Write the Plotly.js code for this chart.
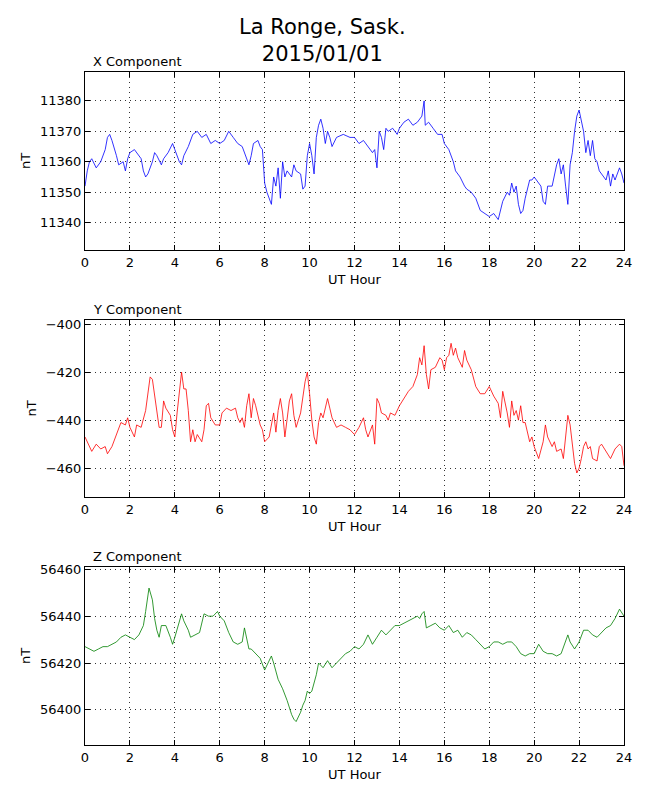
<!DOCTYPE html>
<html>
<head>
<meta charset="utf-8">
<script src="https://cdn.plot.ly/plotly-3.0.1.min.js"></script>
<style>body{margin:0;background:#fff}#chart{width:650px;height:800px}</style>
</head>
<body>
<div id="chart"></div>
<script>
// X component (hour, nT)
const xHours = [0,0.1,0.2,0.3,0.5,0.7,0.9,1.0,1.1,1.2,1.4,1.5,1.7,1.8,1.9,2.0,2.2,2.4,2.5,2.6,2.7,2.8,3.0,3.1,3.2,3.4,3.5,3.7,3.9,4.0,4.2,4.3,4.4,4.6,4.8,5.0,5.2,5.4,5.6,5.8,6.0,6.2,6.4,6.6,6.8,7.0,7.2,7.3,7.4,7.5,7.7,7.8,7.9,8.0,8.1,8.2,8.3,8.4,8.5,8.6,8.7,8.8,8.9,9.0,9.2,9.3,9.4,9.6,9.7,9.8,9.9,10.0,10.1,10.2,10.3,10.4,10.5,10.6,10.7,10.8,10.9,11.0,11.2,11.5,11.8,12.0,12.2,12.4,12.6,12.8,12.9,13.0,13.1,13.2,13.3,13.4,13.5,13.7,13.9,14.0,14.2,14.4,14.6,14.8,15.0,15.1,15.15,15.3,15.5,15.7,15.9,16.0,16.2,16.4,16.5,16.7,16.9,17.0,17.2,17.4,17.6,17.8,18.0,18.2,18.4,18.6,18.8,18.9,19.0,19.1,19.2,19.3,19.4,19.5,19.6,19.8,19.9,20.0,20.2,20.3,20.4,20.5,20.6,20.8,21.0,21.1,21.2,21.3,21.4,21.5,21.6,21.7,21.8,21.9,22.0,22.1,22.2,22.3,22.4,22.5,22.6,22.7,22.8,22.9,23.0,23.2,23.3,23.4,23.5,23.6,23.8,23.9,24];
const xValues = [11352,11357,11360,11361,11358,11360,11364,11368,11369,11367,11362,11359,11360,11357,11361,11363,11364,11362,11361,11357,11355,11356,11360,11363,11362,11359,11361,11363,11366,11364,11360,11359,11362,11365,11369,11370,11368,11369,11366,11367,11366,11367,11370,11368,11366,11365,11361,11359,11362,11366,11367,11365,11364,11353,11350,11348,11346,11355,11352,11358,11348,11360,11355,11357,11355,11359,11357,11356,11351,11352,11362,11366,11362,11356,11368,11372,11374,11371,11366,11370,11368,11365,11368,11369,11368,11368,11366,11367,11365,11363,11364,11358,11370,11368,11364,11371,11370,11371,11369,11371,11373,11374,11372,11373,11375,11380,11372,11373,11371,11369,11369,11366,11364,11360,11357,11355,11352,11351,11350,11348,11344,11343,11342,11343,11341,11347,11350,11349,11353,11350,11352,11346,11343,11344,11348,11354,11354,11355,11353,11352,11347,11346,11352,11352,11359,11361,11356,11359,11352,11346,11359,11363,11370,11375,11377,11373,11370,11363,11367,11362,11367,11361,11360,11357,11356,11354,11357,11352,11356,11354,11358,11356,11353];

// Y component
const yHours = [0,0.2,0.3,0.5,0.7,0.9,1.0,1.2,1.4,1.6,1.8,1.9,2.0,2.2,2.3,2.5,2.7,2.8,2.9,3.0,3.1,3.2,3.3,3.4,3.5,3.6,3.8,3.9,4.0,4.1,4.2,4.3,4.4,4.5,4.6,4.7,4.8,4.9,5.0,5.2,5.3,5.4,5.5,5.6,5.8,6.0,6.1,6.3,6.5,6.7,6.8,6.9,7.0,7.1,7.2,7.3,7.4,7.5,7.6,7.8,7.9,8.0,8.2,8.3,8.4,8.5,8.6,8.7,8.8,8.9,9.0,9.1,9.2,9.3,9.4,9.5,9.6,9.8,9.9,10.0,10.1,10.2,10.3,10.4,10.5,10.6,10.8,10.9,11.0,11.2,11.4,11.6,11.8,12.0,12.2,12.4,12.5,12.6,12.8,12.9,13.0,13.1,13.2,13.4,13.5,13.6,13.8,14.0,14.2,14.4,14.6,14.8,14.9,15.0,15.1,15.2,15.3,15.4,15.6,15.7,15.8,15.9,16.0,16.1,16.2,16.3,16.4,16.5,16.6,16.8,16.9,17.0,17.2,17.4,17.6,17.8,18.0,18.2,18.4,18.5,18.6,18.8,18.9,19.0,19.1,19.2,19.3,19.4,19.5,19.6,19.8,19.9,20.0,20.2,20.3,20.4,20.5,20.6,20.8,20.9,21.0,21.2,21.3,21.4,21.5,21.6,21.7,21.8,21.9,22.0,22.1,22.2,22.3,22.4,22.5,22.6,22.8,22.9,23.0,23.2,23.4,23.6,23.8,23.9,24];
const yValues = [-447,-451,-453,-450,-452,-451,-454,-451,-446,-441,-442,-439,-443,-447,-442,-443,-436,-428,-422,-423,-429,-437,-443,-443,-432,-435,-438,-444,-447,-437,-428,-420,-427,-427,-436,-449,-444,-449,-446,-449,-444,-434,-433,-439,-442,-442,-437,-435,-436,-435,-439,-441,-439,-443,-434,-429,-439,-431,-434,-442,-444,-449,-447,-441,-437,-445,-436,-431,-437,-447,-439,-432,-429,-438,-443,-440,-437,-424,-420,-429,-440,-447,-450,-441,-437,-439,-431,-435,-439,-443,-442,-443,-444,-446,-443,-439,-444,-447,-442,-450,-431,-433,-437,-438,-440,-437,-438,-434,-431,-428,-426,-421,-414,-417,-409,-421,-427,-419,-418,-416,-414,-415,-419,-414,-413,-408,-413,-410,-414,-418,-411,-415,-419,-426,-429,-429,-426,-430,-433,-439,-428,-437,-443,-432,-438,-436,-440,-434,-441,-441,-449,-447,-451,-456,-452,-449,-442,-447,-451,-449,-453,-452,-456,-446,-438,-442,-451,-458,-462,-460,-456,-451,-449,-452,-451,-456,-457,-451,-450,-453,-456,-452,-450,-451,-459];

// Z component
const zHours = [0,0.2,0.4,0.6,0.8,1.0,1.2,1.4,1.6,1.8,2.0,2.2,2.4,2.6,2.7,2.8,2.85,3.0,3.1,3.2,3.3,3.4,3.6,3.8,3.9,4.0,4.2,4.3,4.4,4.6,4.7,4.9,5.1,5.3,5.5,5.7,5.9,6.0,6.2,6.4,6.6,6.8,7.0,7.1,7.2,7.3,7.4,7.6,7.8,8.0,8.2,8.3,8.4,8.6,8.8,9.0,9.2,9.3,9.4,9.6,9.7,9.8,9.9,10.0,10.1,10.3,10.4,10.6,10.8,11.0,11.2,11.4,11.6,11.8,12.0,12.2,12.4,12.6,12.8,13.0,13.2,13.4,13.6,13.8,14.0,14.2,14.4,14.6,14.8,14.9,15.0,15.1,15.2,15.4,15.6,15.8,16.0,16.2,16.4,16.6,16.8,17.0,17.2,17.4,17.6,17.8,18.0,18.2,18.4,18.6,18.8,19.0,19.2,19.4,19.6,19.8,20.0,20.2,20.4,20.6,20.8,21.0,21.2,21.4,21.5,21.6,21.8,22.0,22.2,22.4,22.6,22.8,23.0,23.2,23.4,23.6,23.8,24];
const zValues = [56427,56426,56425,56426,56427,56427,56428,56429,56431,56432,56431,56430,56432,56436,56442,56449,56452,56447,56439,56434,56431,56436,56436,56431,56428,56431,56437,56441,56438,56434,56431,56432,56433,56441,56440,56440,56442,56440,56438,56433,56429,56428,56429,56435,56431,56426,56426,56424,56422,56417,56421,56423,56420,56413,56409,56404,56398,56396,56395,56399,56402,56404,56408,56407,56408,56415,56420,56418,56421,56418,56420,56422,56424,56425,56427,56426,56428,56432,56428,56431,56434,56432,56434,56436,56436,56437,56438,56439,56440,56439,56441,56442,56435,56436,56437,56435,56434,56436,56433,56434,56431,56433,56432,56430,56428,56426,56427,56429,56429,56428,56429,56429,56427,56424,56423,56424,56424,56428,56425,56424,56424,56423,56424,56429,56432,56429,56426,56429,56434,56434,56432,56431,56433,56435,56436,56439,56443,56440];

const hourTicks = [0,2,4,6,8,10,12,14,16,18,20,22,24];
const font = { family: "DejaVu Sans", size: 13, color: "#000" };

function xAxis(anchor) {
    return {
        anchor: anchor, range: [0, 24], tickvals: hourTicks,
        showline: true, mirror: "ticks", linecolor: "#000", linewidth: 1,
        ticks: "inside", ticklen: 5, tickcolor: "#000",
        showgrid: true, gridcolor: "#333", griddash: "1px,4px", gridwidth: 1,
        zeroline: false,
        title: { text: "UT Hour", font: font, standoff: 6 }
    };
}
function yAxis(anchor, domain, range, dtick) {
    return {
        anchor: anchor, domain: domain, range: range, dtick: dtick,
        showline: true, mirror: "ticks", linecolor: "#000", linewidth: 1,
        ticks: "inside", ticklen: 5, tickcolor: "#000",
        showgrid: true, gridcolor: "#333", griddash: "1px,4px", gridwidth: 1,
        zeroline: false, tickformat: "d",
        title: { text: "nT", font: font, standoff: 6 }
    };
}

const data = [
    { x: xHours, y: xValues, xaxis: "x", yaxis: "y", mode: "lines", line: { color: "#0000ff", width: 0.8 } },
    { x: yHours, y: yValues, xaxis: "x2", yaxis: "y2", mode: "lines", line: { color: "#ff0000", width: 0.8 } },
    { x: zHours, y: zValues, xaxis: "x3", yaxis: "y3", mode: "lines", line: { color: "#008000", width: 0.8 } }
];

const layout = {
    width: 650, height: 800,
    margin: { l: 85, r: 26, t: 72, b: 55 },
    paper_bgcolor: "#fff", plot_bgcolor: "#fff",
    font: font, showlegend: false,
    xaxis: xAxis("y"), xaxis2: xAxis("y2"), xaxis3: xAxis("y3"),
    yaxis: yAxis("x", [0.7355, 1], [11331, 11389.5], 10),
    yaxis2: yAxis("x2", [0.3685, 0.6315], [-472, -398.3], 20),
    yaxis3: yAxis("x3", [0, 0.2645], [56385, 56461], 20),
    annotations: [
        { text: "La Ronge, Sask.<br>2015/01/01", xref: "paper", yref: "paper", x: 0.4408, y: 1, xanchor: "center", yanchor: "bottom", yshift: 4, showarrow: false, font: { family: "DejaVu Sans", size: 21, color: "#000" } },
        { text: "X Component", xref: "paper", yref: "paper", x: 0.012, y: 1, yanchor: "bottom", xanchor: "left", showarrow: false, font: font, yshift: 1 },
        { text: "Y Component", xref: "paper", yref: "paper", x: 0.012, y: 0.6315, yanchor: "bottom", xanchor: "left", showarrow: false, font: font, yshift: 1 },
        { text: "Z Component", xref: "paper", yref: "paper", x: 0.012, y: 0.2645, yanchor: "bottom", xanchor: "left", showarrow: false, font: font, yshift: 1 }
    ]
};

Plotly.newPlot("chart", data, layout, { displayModeBar: false, staticPlot: true });
</script>
</body>
</html>
